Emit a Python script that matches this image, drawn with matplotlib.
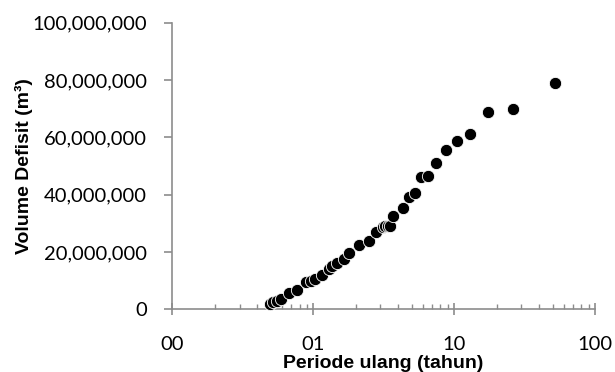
import numpy as np
from matplotlib import pyplot as plt
from matplotlib import ticker

# return period (years) and deficit volume (m3)
periode = [0.49, 0.52, 0.55, 0.59, 0.67, 0.77, 0.89, 0.97, 1.03, 1.15, 1.30,
           1.35, 1.48, 1.65, 1.80, 2.12, 2.50, 2.78, 3.11, 3.25, 3.40, 3.51,
           3.70, 4.32, 4.76, 5.28, 5.79, 6.56, 7.44, 8.76, 10.4, 13.0, 17.3,
           26.1, 52.0]
volume = [1.7e6, 2.5e6, 3.0e6, 3.6e6, 5.8e6, 6.7e6, 9.6e6, 10.0e6, 10.5e6,
          12.0e6, 14.0e6, 15.1e6, 16.3e6, 17.5e6, 19.5e6, 22.4e6, 23.9e6,
          27.1e6, 28.6e6, 28.9e6, 29.0e6, 29.1e6, 32.6e6, 35.2e6, 39.3e6,
          40.7e6, 46.3e6, 46.5e6, 50.9e6, 55.6e6, 58.7e6, 61.2e6, 68.9e6,
          69.9e6, 79.1e6]

x_ticks = [0.1, 1, 10, 100]
x_ticklabels = ['00', '01', '10', '100']
y_ticks = [0, 20e6, 40e6, 60e6, 80e6, 100e6]

axis_col = '#8c8c8c'

fig = plt.figure(figsize=(6.15, 3.72), dpi=100)
ax = fig.add_axes([0.2802, 0.1685, 0.6873, 0.7705])

ax.scatter(periode, volume, s=78, c='black', edgecolors='white',
           linewidths=0.6, zorder=3, clip_on=False)

ax.set_xscale('log')
ax.set_xlim(0.1, 100)
ax.set_ylim(0, 100e6)

ax.xaxis.set_major_locator(ticker.FixedLocator(x_ticks))
ax.xaxis.set_major_formatter(ticker.FixedFormatter(x_ticklabels))
ax.xaxis.set_minor_locator(ticker.LogLocator(base=10, subs=np.arange(2, 10)))
ax.xaxis.set_minor_formatter(ticker.NullFormatter())
ax.yaxis.set_major_locator(ticker.FixedLocator(y_ticks))
ax.yaxis.set_major_formatter(ticker.StrMethodFormatter('{x:,.0f}'))

for s in ['top', 'right']:
    ax.spines[s].set_visible(False)
for s in ['left', 'bottom']:
    ax.spines[s].set_color(axis_col)
    ax.spines[s].set_linewidth(1.2)

ax.tick_params(axis='x', which='major', direction='inout', length=8.4,
               width=1.2, color=axis_col, pad=15)
ax.tick_params(axis='x', which='minor', direction='in', length=3.6,
               width=1.0, color=axis_col)
ax.tick_params(axis='y', which='major', direction='out', length=5.5,
               width=1.2, color=axis_col, pad=13)
for lab in ax.get_xticklabels() + ax.get_yticklabels():
    lab.set_fontfamily('Lato')
    lab.set_fontsize(14.5)

ax.set_xlabel('Periode ulang (tahun)', fontfamily='Liberation Sans',
              fontweight='bold', fontsize=14, labelpad=1.5)
ax.set_ylabel('Volume Defisit (m³)', fontfamily='Liberation Sans',
              fontweight='bold', fontsize=14, labelpad=-1)

fig.savefig('out.png', dpi=100)
